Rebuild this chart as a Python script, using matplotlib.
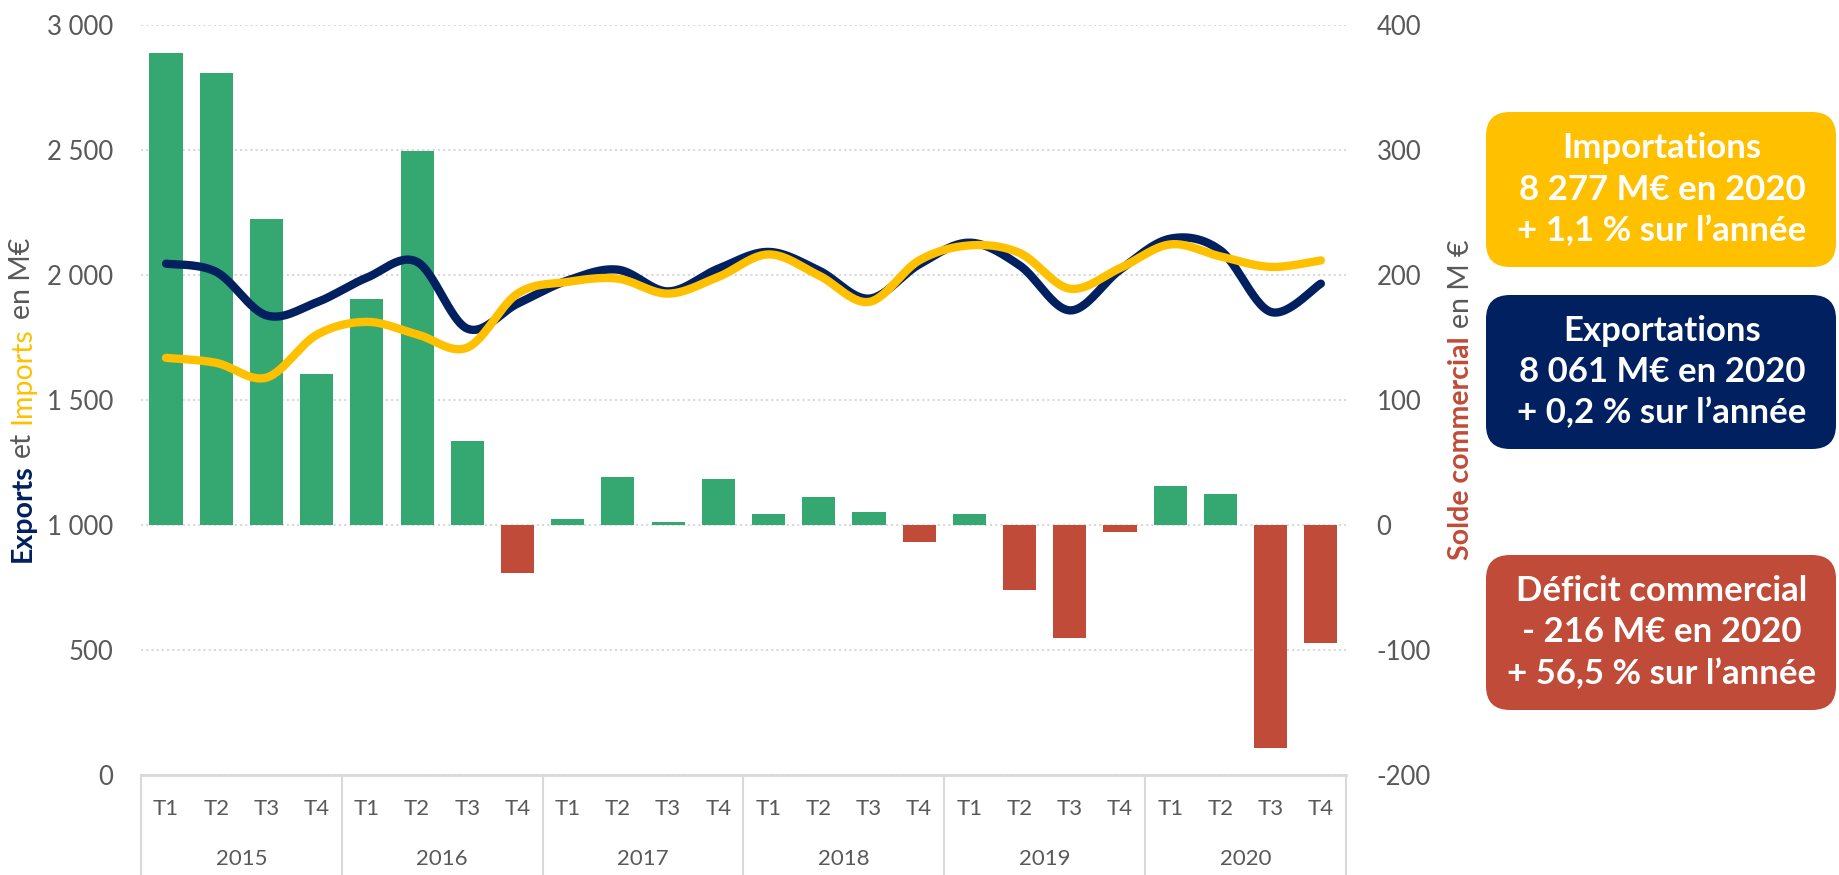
import numpy as np
import matplotlib.pyplot as plt
import matplotlib.transforms as mtransforms
from matplotlib.patches import FancyBboxPatch
from matplotlib.ticker import FuncFormatter, MultipleLocator

plt.rcParams["font.family"] = ["Lato", "DejaVu Sans"]

years = ["2015", "2016", "2017", "2018", "2019", "2020"]
quarters = ["T1", "T2", "T3", "T4"]

# Exports / imports (M€, left axis)
exports = [2045, 2012, 1838, 1890, 1989, 2052, 1785, 1885,
           1978, 2021, 1934, 2025, 2092, 2018, 1905, 2042,
           2129, 2038, 1858, 2020, 2145, 2098, 1852, 1965]
imports = [1668, 1648, 1589, 1760, 1812, 1762, 1709, 1925,
           1972, 1985, 1925, 1992, 2082, 1998, 1892, 2058,
           2118, 2088, 1945, 2027, 2122, 2074, 2032, 2058]
# Solde commercial (M€, right axis)
solde = [378, 362, 245, 121, 181, 299, 67, -39,
         5, 38, 2, 37, 9, 22, 10, -14,
         9, -52, -91, -6, 31, 25, -179, -95]

box_texts = [
    "Importations\n8 277 M€ en 2020\n+ 1,1 % sur l’année",
    "Exportations\n8 061 M€ en 2020\n+ 0,2 % sur l’année",
    "Déficit commercial\n- 216 M€ en 2020\n+ 56,5 % sur l’année",
]

NAVY = "#002060"
YELLOW = "#FFC000"
GREEN = "#34A870"
RED = "#C04B38"
GRAY = "#595959"
LIGHT = "#D9D9D9"


def catmull_rom(y, n=30):
    y = np.asarray(y, float)
    x = np.arange(len(y), dtype=float)
    px = np.concatenate([[x[0]], x, [x[-1]]])
    py = np.concatenate([[y[0]], y, [y[-1]]])
    t = np.linspace(0, 1, n)[:-1]
    xs, ys = [], []
    for i in range(1, len(px) - 2):
        for p, out in ((px, xs), (py, ys)):
            p0, p1, p2, p3 = p[i - 1], p[i], p[i + 1], p[i + 2]
            out.extend(0.5 * ((2 * p1) + (-p0 + p2) * t
                              + (2 * p0 - 5 * p1 + 4 * p2 - p3) * t ** 2
                              + (-p0 + 3 * p1 - 3 * p2 + p3) * t ** 3))
    xs.append(x[-1])
    ys.append(y[-1])
    return np.array(xs), np.array(ys)


fig = plt.figure(figsize=(18.4, 8.75), dpi=100)
ax = fig.add_axes([0.0766, 0.1147, 0.6549, 0.8567])
ax2 = ax.twinx()
ax.set_zorder(2)
ax2.set_zorder(1)
ax.patch.set_visible(False)

n = len(solde)
xpos = np.arange(n)

# bars on right axis
bar_colors = [GREEN if v >= 0 else RED for v in solde]
ax2.bar(xpos, solde, width=0.66, color=bar_colors, zorder=2)
ax2.set_ylim(-200, 400)
ax2.yaxis.set_major_locator(MultipleLocator(100))
ax2.yaxis.set_major_formatter(FuncFormatter(lambda v, p: f"{int(v)}".replace("\u2212", "-")))
ax2.grid(axis="y", color=LIGHT, linestyle=(0, (1, 1.5)), linewidth=1.5)
ax2.set_axisbelow(True)

# smoothed lines on left axis
sx, sy = catmull_rom(exports)
ax.plot(sx, sy, color=NAVY, linewidth=6, solid_capstyle="round")
sx, sy = catmull_rom(imports)
ax.plot(sx, sy, color=YELLOW, linewidth=6, solid_capstyle="round")
ax.set_ylim(0, 3000)
ax.yaxis.set_major_locator(MultipleLocator(500))
ax.yaxis.set_major_formatter(FuncFormatter(lambda v, p: f"{int(v):,}".replace(",", " ")))
ax.set_xlim(-0.5, n - 0.5)
ax.set_xticks([])

for a in (ax, ax2):
    for s in a.spines.values():
        s.set_visible(False)
    a.tick_params(axis="y", length=0, labelsize=18.5, labelcolor=GRAY)
ax.tick_params(axis="y", pad=20)
ax2.tick_params(axis="y", pad=22)
ax2.set_xticks([])

# category axis frame
trans = mtransforms.blended_transform_factory(ax.transData, ax.transAxes)
ax.plot([-0.5, n - 0.5], [0, 0], transform=trans, color=LIGHT, lw=2, clip_on=False)
for k in range(len(years) + 1):
    xb = k * 4 - 0.5
    ax.plot([xb, xb], [0, -0.16], transform=trans, color=LIGHT, lw=1.5, clip_on=False)
for i in range(n):
    ax.text(i, -0.046, quarters[i % 4], transform=trans, ha="center", va="center",
            fontsize=16, color=GRAY)
for k, yr in enumerate(years):
    ax.text(k * 4 + 1.5, -0.113, yr, transform=trans, ha="center", va="center",
            fontsize=16, color=GRAY)


def vertical_label(x, yc, pieces, size):
    renderer = fig.canvas.get_renderer()
    texts = []
    for s, c, w in pieces:
        texts.append(fig.text(x, 0, s, rotation=90, rotation_mode="anchor",
                              ha="left", va="baseline", color=c, fontweight=w,
                              fontsize=size))
    lengths = [t.get_window_extent(renderer).height / fig.bbox.height for t in texts]
    gap = 0.28 * size / 72 * fig.dpi / fig.bbox.height
    total = sum(lengths) + gap * (len(texts) - 1)
    y = yc - total / 2
    for t, h in zip(texts, lengths):
        t.set_y(y)
        y += h + gap


yc = 1 - 400 / 875
vertical_label(0.0165, yc, [("Exports", NAVY, "bold"), ("et", GRAY, "normal"),
                            ("Imports", YELLOW, "normal"), ("en M€", GRAY, "normal")], 20.5)
vertical_label(0.7985, yc, [("Solde commercial", RED, "bold"), ("en M €", GRAY, "normal")], 20.5)

# summary boxes (pixel overlay)
ov = fig.add_axes([0, 0, 1, 1], zorder=5)
ov.set_xlim(0, 1840)
ov.set_ylim(875, 0)
ov.axis("off")
boxes = [(112, 267, YELLOW), (295, 449, NAVY), (555, 710, RED)]
for (y0, y1, col), txt in zip(boxes, box_texts):
    ov.add_patch(FancyBboxPatch((1486, y0), 350, y1 - y0,
                                boxstyle="round,pad=0,rounding_size=24",
                                facecolor=col, edgecolor="none"))
    ov.text(1662, (y0 + y1) / 2, txt, ha="center", va="center", color="white",
            fontsize=25, fontweight="bold", linespacing=1.35)

fig.savefig("out.png", dpi=100)
